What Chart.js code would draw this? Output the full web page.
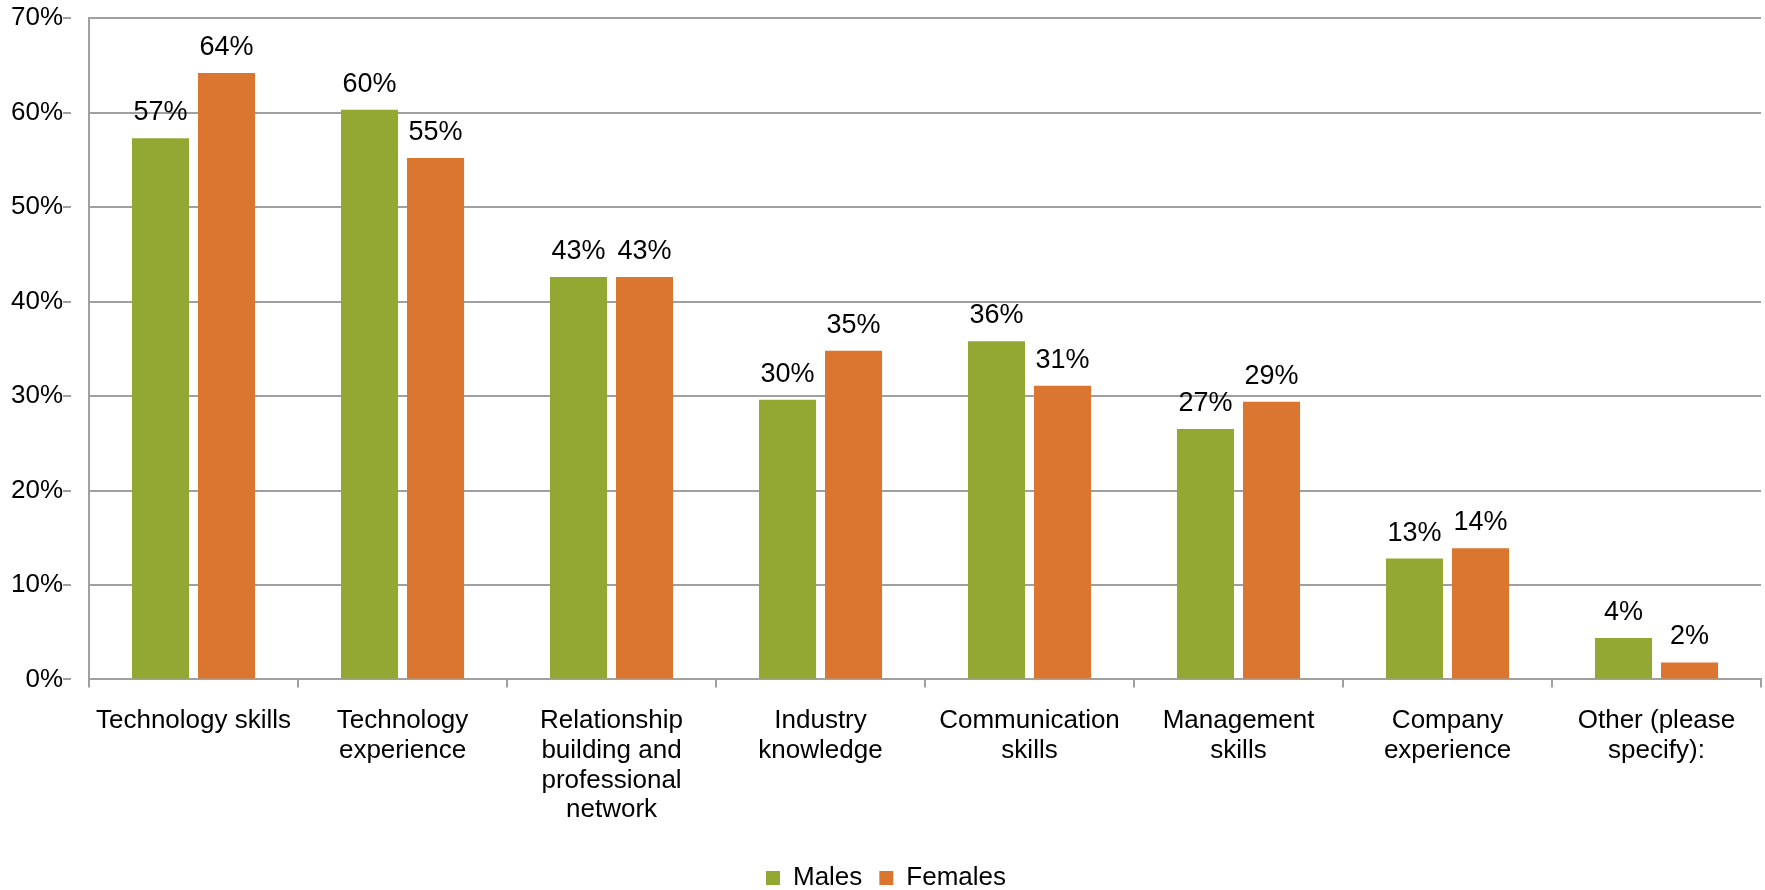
<!DOCTYPE html>
<html>
<head>
<meta charset="utf-8">
<script src="https://cdn.jsdelivr.net/npm/chart.js@4/dist/chart.umd.min.js"></script>
<style>
  html, body { margin: 0; padding: 0; background: #ffffff; }
  #wrap { width: 1765px; height: 890px; position: relative; }
</style>
</head>
<body>
<div id="wrap"><canvas id="c" width="1765" height="890"></canvas></div>
<script>
const categories = [
  ["Technology skills"],
  ["Technology", "experience"],
  ["Relationship", "building and", "professional", "network"],
  ["Industry", "knowledge"],
  ["Communication", "skills"],
  ["Management", "skills"],
  ["Company", "experience"],
  ["Other (please", "specify):"]
];
const males   = [57.3, 60.3, 42.6, 29.6, 35.8, 26.5, 12.8, 4.4];
const females = [64.2, 55.2, 42.6, 34.8, 31.1, 29.4, 13.9, 1.8];
const yTicks = [0, 10, 20, 30, 40, 50, 60, 70];

const FONT = "'Liberation Sans', Arial, sans-serif";
const GRID = '#a0a0a0';

const valueLabels = {
  id: 'valueLabels',
  afterDatasetsDraw(chart) {
    const ctx = chart.ctx;
    ctx.save();
    ctx.font = '27px ' + FONT;
    ctx.fillStyle = '#000';
    ctx.textAlign = 'center';
    ctx.textBaseline = 'alphabetic';
    chart.data.datasets.forEach((ds, i) => {
      const meta = chart.getDatasetMeta(i);
      meta.data.forEach((bar, j) => {
        ctx.fillText(Math.round(ds.data[j]) + '%', bar.x, bar.y - 18);
      });
    });
    ctx.restore();
  }
};

new Chart(document.getElementById('c'), {
  type: 'bar',
  data: {
    labels: categories,
    datasets: [
      { label: 'Males', data: males, backgroundColor: '#93a833', borderWidth: 0 },
      { label: 'Females', data: females, backgroundColor: '#da762f', borderWidth: 0 }
    ]
  },
  options: {
    responsive: false,
    animation: false,
    devicePixelRatio: 1,
    layout: { padding: { left: 11, right: 4, top: 0, bottom: -11 } },
    datasets: { bar: { categoryPercentage: 0.632, barPercentage: 0.864 } },
    plugins: {
      legend: {
        position: 'bottom',
        labels: {
          font: { family: FONT, size: 26 },
          color: '#000',
          boxWidth: 14,
          boxHeight: 14,
          padding: 17
        }
      },
      tooltip: { enabled: false }
    },
    scales: {
      x: {
        grid: { display: true, drawOnChartArea: false, drawTicks: true, tickLength: 8, color: GRID, lineWidth: 2, offset: true },
        border: { display: true, color: GRID, width: 2 },
        ticks: {
          font: { family: FONT, size: 26, lineHeight: 1.14 },
          color: '#000',
          maxRotation: 0,
          autoSkip: false,
          padding: 19
        },
        afterFit(scale) { scale.height += 4; }
      },
      y: {
        min: 0,
        max: 70,
        afterBuildTicks(axis) { axis.ticks = yTicks.map(v => ({ value: v })); },
        grid: { color: GRID, lineWidth: 2, drawTicks: true, tickLength: 26, tickBorderDash: [8, 100] },
        border: { display: true, color: GRID, width: 2 },
        ticks: {
          font: { family: FONT, size: 26, lineHeight: 1.4 },
          color: '#000',
          padding: 0,
          callback: v => v + '%'
        }
      }
    }
  },
  plugins: [valueLabels]
});
</script>
</body>
</html>
